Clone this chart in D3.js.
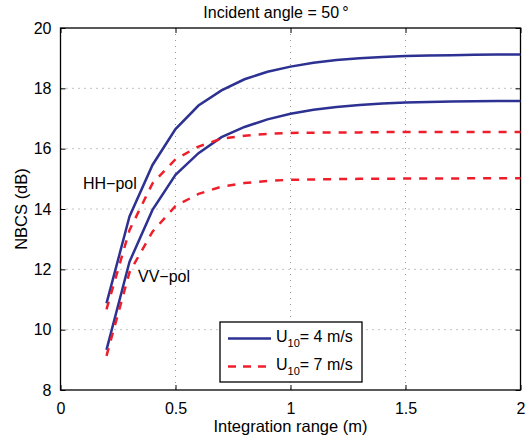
<!DOCTYPE html>
<html>
<head>
<meta charset="utf-8">
<script src="https://cdn.jsdelivr.net/npm/d3@7"></script>
<style>
  body { margin:0; background:#fff; }
  svg text { font-family:"Liberation Sans", Arial, Helvetica, sans-serif; fill:#000; }
</style>
</head>
<body>
<svg id="chart" width="531" height="438"></svg>
<script>
// integration range (m)
const ranges = [0.2,0.3,0.4,0.5,0.6,0.7,0.8,0.9,1.0,1.1,1.2,1.3,1.4,1.5,1.6,1.7,1.8,1.9,2.0];
// NBCS (dB)
const hh4 = [10.87,13.75,15.46,16.65,17.43,17.93,18.30,18.55,18.72,18.85,18.94,19.00,19.04,19.07,19.09,19.10,19.11,19.12,19.12];
const vv4 = [9.33,12.25,13.97,15.13,15.85,16.38,16.72,16.97,17.16,17.29,17.38,17.45,17.50,17.53,17.55,17.56,17.57,17.58,17.58];
const hh7 = [10.67,13.30,14.85,15.65,16.07,16.33,16.43,16.49,16.52,16.53,16.54,16.54,16.55,16.55,16.55,16.55,16.55,16.55,16.55];
const vv7 = [9.13,11.90,13.25,14.10,14.50,14.74,14.86,14.93,14.97,14.98,14.99,15.00,15.00,15.01,15.01,15.01,15.02,15.02,15.02];

const xTicks = [0,0.5,1,1.5,2];
const yTicks = [8,10,12,14,16,18,20];
const xTickLabels = ['0','0.5','1','1.5','2'];

const BLUE='#2d3191', RED='#ee1f2a';

const svg=d3.select('#chart');
const L=60.5, R=520.5, T=28, B=390;

const x=d3.scaleLinear().domain([0,2]).range([L,R]);
const y=d3.scaleLinear().domain([8,20]).range([B,T]);

// grid
const grid=svg.append('g');
grid.selectAll('line.gx').data(xTicks.slice(1,-1)).join('line')
    .attr('x1',d=>x(d)).attr('x2',d=>x(d)).attr('y1',T).attr('y2',B)
    .attr('stroke','#999').attr('stroke-width',1).attr('stroke-dasharray','1,5');
grid.selectAll('line.gy').data(yTicks.slice(1,-1)).join('line')
    .attr('y1',d=>y(d)).attr('y2',d=>y(d)).attr('x1',L).attr('x2',R)
    .attr('stroke','#888').attr('stroke-width',1).attr('stroke-dasharray','1,5');

// axes (ticks inside, box on all sides)
const tl=5;
svg.append('g').attr('transform',`translate(0,${B})`)
   .call(d3.axisBottom(x).tickValues(xTicks).tickFormat((d,i)=>xTickLabels[i]).tickSizeInner(-tl).tickSizeOuter(0).tickPadding(10))
   .call(g=>{ g.select('.domain').remove(); g.selectAll('text').attr('font-size',16).attr('dy','0.9em'); });
svg.append('g').attr('transform',`translate(0,${T})`)
   .call(d3.axisTop(x).tickValues(xTicks).tickFormat('').tickSizeInner(-tl).tickSizeOuter(0))
   .call(g=>g.select('.domain').remove());
svg.append('g').attr('transform',`translate(${L},0)`)
   .call(d3.axisLeft(y).tickValues(yTicks).tickSizeInner(-tl).tickSizeOuter(0).tickPadding(9))
   .call(g=>{ g.select('.domain').remove(); g.selectAll('text').attr('font-size',16); });
svg.append('g').attr('transform',`translate(${R},0)`)
   .call(d3.axisRight(y).tickValues(yTicks).tickFormat('').tickSizeInner(-tl).tickSizeOuter(0))
   .call(g=>g.select('.domain').remove());
svg.selectAll('.tick line').attr('stroke','#000');

svg.append('rect').attr('x',L).attr('y',T).attr('width',R-L).attr('height',B-T)
   .attr('fill','none').attr('stroke','#000').attr('stroke-width',1.3);

// curves
const line=d3.line().x((d,i)=>x(ranges[i])).y(d=>y(d));
const series=[
  {v:hh4,c:BLUE,dash:null},
  {v:vv4,c:BLUE,dash:null},
  {v:hh7,c:RED,dash:'8,8'},
  {v:vv7,c:RED,dash:'8,8'}
];
svg.append('g').selectAll('path').data(series).join('path')
   .attr('d',d=>line(d.v)).attr('fill','none')
   .attr('stroke',d=>d.c).attr('stroke-width',2.5)
   .attr('stroke-dasharray',d=>d.dash);

// labels
svg.append('text').attr('x',276).attr('y',17.5).attr('text-anchor','middle').attr('font-size',16)
   .text('Incident angle = 50\u2009°');
svg.append('text').attr('x',(L+R)/2).attr('y',432).attr('text-anchor','middle').attr('font-size',16.5)
   .text('Integration range (m)');
svg.append('text').attr('transform',`translate(27,${y(14)}) rotate(-90)`).attr('text-anchor','middle').attr('font-size',16.5)
   .text('NBCS (dB)');
svg.append('text').attr('x',83).attr('y',189).attr('font-size',16).text('HH\u2212pol');
svg.append('text').attr('x',138).attr('y',281.5).attr('font-size',16).text('VV\u2212pol');

// legend
const leg=svg.append('g');
leg.append('rect').attr('x',220).attr('y',322).attr('width',142).attr('height',60)
   .attr('fill','#fff').attr('stroke','#000').attr('stroke-width',1.3);
const legItems=[{c:BLUE,dash:null,t:'= 4 m/s',yy:338.5},{c:RED,dash:'8,7',t:'= 7 m/s',yy:366.5}];
legItems.forEach(it=>{
  leg.append('line').attr('x1',228).attr('x2',271).attr('y1',it.yy).attr('y2',it.yy)
     .attr('stroke',it.c).attr('stroke-width',2.5).attr('stroke-dasharray',it.dash);
  const t=leg.append('text').attr('x',276).attr('y',it.yy+3.5).attr('font-size',16);
  t.append('tspan').text('U');
  t.append('tspan').attr('font-size',11).attr('dy',5).text('10');
  t.append('tspan').attr('dy',-5).text(it.t);
});
</script>
</body>
</html>
